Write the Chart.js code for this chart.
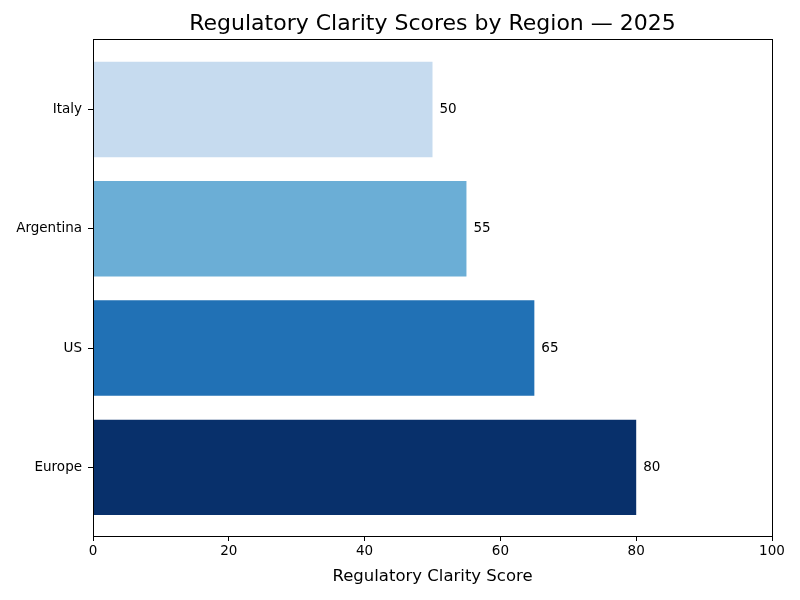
<!DOCTYPE html>
<html>
<head>
<meta charset="utf-8">
<script src="https://cdn.jsdelivr.net/npm/chart.js@4"></script>
<style>
  html, body { margin: 0; padding: 0; background: #fff; }
  #wrap { width: 800px; height: 600px; }
</style>
</head>
<body>
<div id="wrap"><canvas id="scoreChart" width="800" height="600"></canvas></div>
<script>
// Chart data (top to bottom as shown)
const regions = ['Italy', 'Argentina', 'US', 'Europe'];
const scores = [50, 55, 65, 80];
const barColors = ['#c6dbef', '#6baed6', '#2171b5', '#08306b'];
const xTicks = [0, 20, 40, 60, 80, 100];
const chartTitle = 'Regulatory Clarity Scores by Region \u2014 2025';

const FONT = 'DejaVu Sans';

// Value labels just past the end of each bar
const valueLabels = {
    id: 'valueLabels',
    afterDatasetsDraw(chart) {
        const ctx = chart.ctx;
        const meta = chart.getDatasetMeta(0);
        ctx.save();
        ctx.font = '13.5px "' + FONT + '"';
        ctx.fillStyle = '#000';
        ctx.textAlign = 'left';
        ctx.textBaseline = 'middle';
        meta.data.forEach((bar, i) => {
            ctx.fillText(String(scores[i]), bar.x + 7, bar.y);
        });
        ctx.restore();
    }
};

// Box around the plot area plus a title centred over it
const frame = {
    id: 'frame',
    afterDraw(chart) {
        const a = chart.chartArea;
        const ctx = chart.ctx;
        ctx.save();
        ctx.strokeStyle = '#000';
        ctx.lineWidth = 1;
        ctx.strokeRect(Math.round(a.left) + 0.5, Math.round(a.top) + 0.5,
            Math.round(a.right - a.left), Math.round(a.bottom - a.top));
        ctx.font = '22px "' + FONT + '"';
        ctx.fillStyle = '#000';
        ctx.textAlign = 'center';
        ctx.textBaseline = 'middle';
        ctx.fillText(chartTitle, (a.left + a.right) / 2, 24);
        ctx.restore();
    }
};

const ctx = document.getElementById('scoreChart').getContext('2d');
const scoreChart = new Chart(ctx, {
    type: 'bar',
    data: {
        datasets: [{
            data: regions.map((r, i) => ({ x: scores[i], y: i })),
            backgroundColor: barColors,
            borderWidth: 0,
            categoryPercentage: 1.0,
            barPercentage: 0.8
        }]
    },
    options: {
        indexAxis: 'y',
        responsive: false,
        animation: false,
        devicePixelRatio: 1,
        layout: { padding: { left: 0, right: 28, top: 39, bottom: 0 } },
        plugins: {
            legend: { display: false },
            tooltip: { enabled: false },
            title: { display: false }
        },
        scales: {
            x: {
                type: 'linear',
                min: 0,
                max: 100,
                offset: false,
                afterBuildTicks: s => { s.ticks = xTicks.map(v => ({ value: v })); },
                afterFit: s => { s.height = 64; },
                border: { display: false },
                grid: { offset: false, drawOnChartArea: false, drawTicks: true, tickLength: 5, color: '#000' },
                ticks: { color: '#000', padding: 2, font: { family: FONT, size: 13.5 } },
                title: {
                    display: true,
                    text: 'Regulatory Clarity Score',
                    color: '#000',
                    font: { family: FONT, size: 16.5 },
                    padding: { top: 0, bottom: 13 }
                }
            },
            y: {
                type: 'linear',
                min: -0.59,
                max: 3.575,
                reverse: true,
                offset: false,
                afterBuildTicks: s => { s.ticks = regions.map((r, i) => ({ value: i })); },
                afterFit: s => { s.width = 93; },
                border: { display: false },
                grid: { offset: false, drawOnChartArea: false, drawTicks: true, tickLength: 5, color: '#000' },
                ticks: {
                    color: '#000',
                    padding: 6,
                    font: { family: FONT, size: 13.5 },
                    callback: v => regions[v]
                }
            }
        }
    },
    plugins: [valueLabels, frame]
});
</script>
</body>
</html>
